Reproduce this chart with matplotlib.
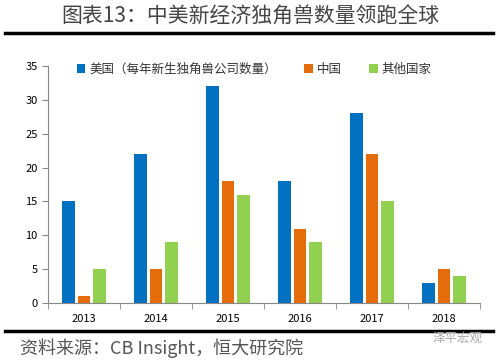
import matplotlib
matplotlib.use("Agg")
import matplotlib.pyplot as plt
import numpy as np

plt.rcParams['font.family'] = ['Noto Sans CJK SC', 'DejaVu Sans']

years = ['2013', '2014', '2015', '2016', '2017', '2018']
us = [15, 22, 32, 18, 28, 3]
china = [1, 5, 18, 11, 22, 5]
others = [5, 9, 16, 9, 15, 4]
series_names = ['美国（每年新生独角兽公司数量）', '中国', '其他国家']
colors = ['#0070C0', '#E46C0A', '#92D050']

fig = plt.figure(figsize=(5, 3.6), dpi=100)
ax = fig.add_axes([0.096, 0.158, 0.864, 0.659])

x = np.arange(len(years))
w = 0.18
off = 0.22
for vals, name, c, o in zip([us, china, others], series_names, colors, [-off, 0, off]):
    ax.bar(x + o, vals, width=w, color=c, label=name)

ax.set_xlim(-0.5, len(years) - 0.5)
ax.set_ylim(0, 35)
ax.set_yticks(range(0, 36, 5))
ax.set_xticks(x)
ax.set_xticklabels(years)
ax.set_xticks(np.arange(-0.5, len(years), 1), minor=True)
ax.tick_params(axis='x', which='major', length=0, labelsize=8, pad=8)
ax.tick_params(axis='x', which='minor', length=4, color='#888888')
ax.tick_params(axis='y', labelsize=8, length=4, color='#888888')
for s in ['top', 'right']:
    ax.spines[s].set_visible(False)
for s in ['left', 'bottom']:
    ax.spines[s].set_color('#888888')

leg = ax.legend(loc='upper left', bbox_to_anchor=(0.04, 1.06), ncol=3, frameon=False,
                fontsize=9, handlelength=0.7, handleheight=0.7, handletextpad=0.3,
                columnspacing=2.2)
for t in leg.get_texts():
    t.set_color('#333333')

fig.text(0.5, 0.952, '图表13：中美新经济独角兽数量领跑全球', ha='center', va='center',
         fontsize=15, color='#444444', fontweight='light')
fig.add_artist(plt.Line2D([0.01, 0.985], [0.907, 0.907], color='black', lw=2.5))
fig.add_artist(plt.Line2D([0.01, 0.985], [0.08, 0.08], color='black', lw=2.5))
fig.text(0.04, 0.033, '资料来源：CB Insight，恒大研究院', ha='left', va='center',
         fontsize=13, color='#555555', style='italic', fontweight='light')
fig.text(0.965, 0.06, '泽平宏观', ha='right', va='center', fontsize=9, color='#aaaaaa')

fig.savefig('out.png', dpi=100)
